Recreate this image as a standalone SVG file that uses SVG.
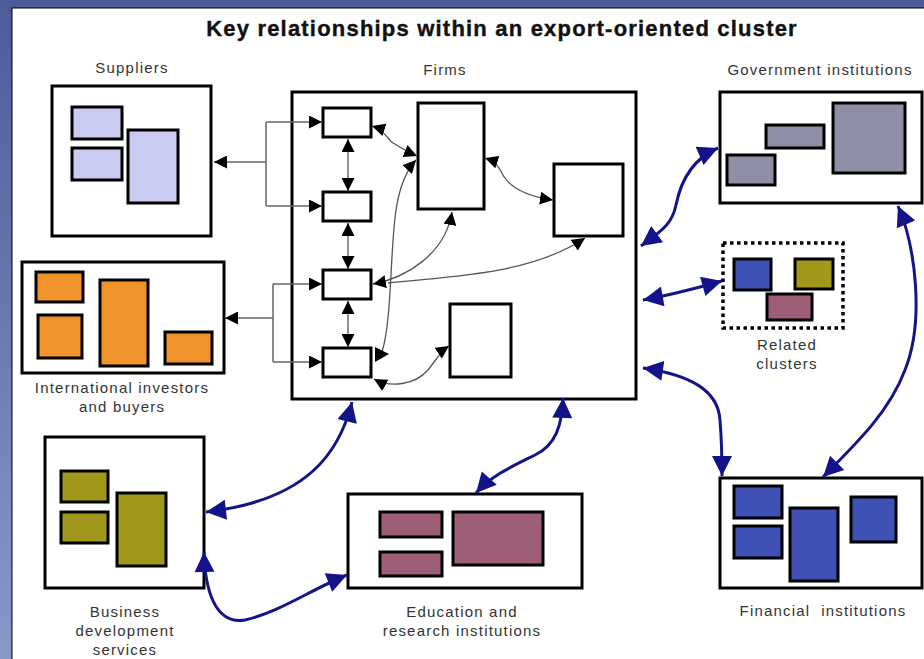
<svg xmlns="http://www.w3.org/2000/svg" width="924" height="659" viewBox="0 0 924 659">
<defs>
<linearGradient id="edge" x1="0" y1="0" x2="0" y2="1">
<stop offset="0" stop-color="#4d5b9a"/>
<stop offset="1" stop-color="#8a98c8"/>
</linearGradient>
<marker id="ab" viewBox="0 0 10 10" refX="10" refY="5" markerWidth="13" markerHeight="13" markerUnits="userSpaceOnUse" orient="auto-start-reverse">
<path d="M0,0 L10,5 L0,10 z" fill="#000"/>
</marker>
<marker id="nb" viewBox="0 0 10 10" refX="10" refY="5" markerWidth="22" markerHeight="20" markerUnits="userSpaceOnUse" orient="auto-start-reverse">
<path d="M0,0 L10,5 L0,10 z" fill="#14148a"/>
</marker>
<style>
.box{fill:#fff;stroke:#000;stroke-width:3}
.in{stroke:#000;stroke-width:3}
.lbl{font-family:"Liberation Sans",Arial,sans-serif;font-size:15px;letter-spacing:1.2px;fill:#333;text-anchor:middle}
.thin{fill:none;stroke:#666;stroke-width:1.5}
.blk{fill:none;stroke:#555;stroke-width:1.3}
.nav{fill:none;stroke:#14148a;stroke-width:3;marker-start:url(#nb);marker-end:url(#nb)}
.sup{fill:#c9cbf2}.org{fill:#f2922a}.gry{fill:#8e8ea6}.blu{fill:#3f51b5}.olv{fill:#9f981a}.mau{fill:#9e5e78}
</style>
</defs>
<rect x="0" y="0" width="924" height="659" fill="#4d5b9a"/>
<rect x="0" y="0" width="12" height="659" fill="url(#edge)"/>
<rect x="12" y="8" width="913" height="652" fill="#fff" stroke="#000" stroke-width="1"/>
<text x="502" y="36" font-family="Liberation Sans,Arial,sans-serif" font-size="22" font-weight="bold" letter-spacing="1.2" text-anchor="middle" fill="#111" stroke="#111" stroke-width="0.4">Key relationships within an export-oriented cluster</text>

<g id="suppliers">
<rect class="box" x="52" y="86" width="159" height="150"/>
<rect class="in sup" x="72" y="107" width="50" height="32"/>
<rect class="in sup" x="72" y="148" width="50" height="32"/>
<rect class="in sup" x="128" y="130" width="50" height="73"/>
<text class="lbl" x="132" y="73">Suppliers</text>
</g>

<g id="firms">
<rect class="box" x="292" y="92" width="344" height="307"/>
<rect class="box" x="323" y="108" width="48" height="29"/>
<rect class="box" x="323" y="192" width="48" height="29"/>
<rect class="box" x="323" y="270" width="48" height="29"/>
<rect class="box" x="323" y="348" width="48" height="29"/>
<rect class="box" x="418" y="103" width="66" height="106"/>
<rect class="box" x="554" y="164" width="69" height="72"/>
<rect class="box" x="450" y="304" width="61" height="73"/>
<text class="lbl" x="445" y="75">Firms</text>
</g>

<g id="international">
<rect class="box" x="22" y="262" width="202" height="111"/>
<rect class="in org" x="36" y="272" width="47" height="30"/>
<rect class="in org" x="38" y="315" width="44" height="43"/>
<rect class="in org" x="100" y="280" width="48" height="86"/>
<rect class="in org" x="165" y="332" width="47" height="32"/>
<text class="lbl" x="122" y="393">International investors</text>
<text class="lbl" x="122" y="412">and buyers</text>
</g>

<g id="government">
<rect class="box" x="720" y="92" width="202" height="111"/>
<rect class="in gry" x="727" y="155" width="48" height="30"/>
<rect class="in gry" x="766" y="125" width="58" height="23"/>
<rect class="in gry" x="833" y="103" width="72" height="70"/>
<text class="lbl" x="820" y="75">Government institutions</text>
</g>

<g id="related">
<rect x="723" y="243" width="120" height="85" fill="#fff" stroke="#000" stroke-width="3.5" stroke-dasharray="3.5 3.5"/>
<rect class="in blu" x="734" y="259" width="37" height="31"/>
<rect class="in olv" x="795" y="259" width="38" height="30"/>
<rect class="in mau" x="767" y="294" width="45" height="26"/>
<text class="lbl" x="787" y="350">Related</text>
<text class="lbl" x="787" y="369">clusters</text>
</g>

<g id="financial">
<rect class="box" x="720" y="478" width="202" height="110"/>
<rect class="in blu" x="734" y="486" width="48" height="32"/>
<rect class="in blu" x="734" y="526" width="48" height="32"/>
<rect class="in blu" x="790" y="508" width="48" height="73"/>
<rect class="in blu" x="851" y="497" width="45" height="45"/>
<text class="lbl" x="823" y="616" xml:space="preserve">Financial  institutions</text>
</g>

<g id="bds">
<rect class="box" x="45" y="437" width="159" height="151"/>
<rect class="in olv" x="61" y="471" width="47" height="31"/>
<rect class="in olv" x="61" y="512" width="47" height="31"/>
<rect class="in olv" x="117" y="493" width="49" height="73"/>
<text class="lbl" x="125" y="617">Business</text>
<text class="lbl" x="125" y="636">development</text>
<text class="lbl" x="125" y="655">services</text>
</g>

<g id="education">
<rect class="box" x="348" y="494" width="234" height="94"/>
<rect class="in mau" x="380" y="512" width="62" height="25"/>
<rect class="in mau" x="380" y="552" width="62" height="24"/>
<rect class="in mau" x="453" y="512" width="90" height="53"/>
<text class="lbl" x="462" y="617">Education and</text>
<text class="lbl" x="462" y="636">research institutions</text>
</g>

<g id="connectors">
<path class="thin" d="M266,122 V206 M266,162 H214" marker-end="url(#ab)"/>
<path class="thin" d="M266,122 H322" marker-end="url(#ab)"/>
<path class="thin" d="M266,206 H322" marker-end="url(#ab)"/>
<path class="thin" d="M273,284 V362 M273,318 H225" marker-end="url(#ab)"/>
<path class="thin" d="M273,284 H322" marker-end="url(#ab)"/>
<path class="thin" d="M273,362 H322" marker-end="url(#ab)"/>
<path class="blk" d="M348,139 V191" marker-start="url(#ab)" marker-end="url(#ab)"/>
<path class="blk" d="M348,223 V269" marker-start="url(#ab)" marker-end="url(#ab)"/>
<path class="blk" d="M348,301 V347" marker-start="url(#ab)" marker-end="url(#ab)"/>
<path class="blk" d="M372,126 C385,130 388,140 393,143 C400,147 405,151 417,156" marker-start="url(#ab)" marker-end="url(#ab)"/>
<path class="blk" d="M485,158 C500,163 500,172 505,178 C512,188 525,196 553,200" marker-start="url(#ab)" marker-end="url(#ab)"/>
<path class="blk" d="M373,284 C405,278 445,255 452,212" marker-start="url(#ab)" marker-end="url(#ab)"/>
<path class="blk" d="M388,283 C450,276 530,275 585,238" marker-end="url(#ab)"/>
<path class="blk" d="M382,352 C392,320 390,250 396,210 C399,190 405,172 416,160" marker-end="url(#ab)"/>
<polygon points="375,347 389,354 375,362" fill="#000"/>
<path class="blk" d="M374,379 C390,388 415,385 428,370 C436,360 440,352 449,346" marker-start="url(#ab)" marker-end="url(#ab)"/>
<path class="nav" d="M641,246 C660,232 672,225 676,205 C680,185 690,160 718,148"/>
<path class="nav" d="M643,300 C665,296 690,290 722,281"/>
<path class="nav" d="M643,368 C690,375 718,390 720,420 C722,445 722,460 722,476"/>
<path class="nav" d="M898,206 C915,245 925,320 905,370 C890,410 860,440 823,477"/>
<path class="nav" d="M352,402 C340,450 310,500 206,512"/>
<path class="nav" d="M204,552 C205,590 215,625 245,620 C280,612 310,590 347,575"/>
<path class="nav" d="M563,398 C562,425 556,445 535,455 C515,465 492,475 476,493"/>
</g>
</svg>
